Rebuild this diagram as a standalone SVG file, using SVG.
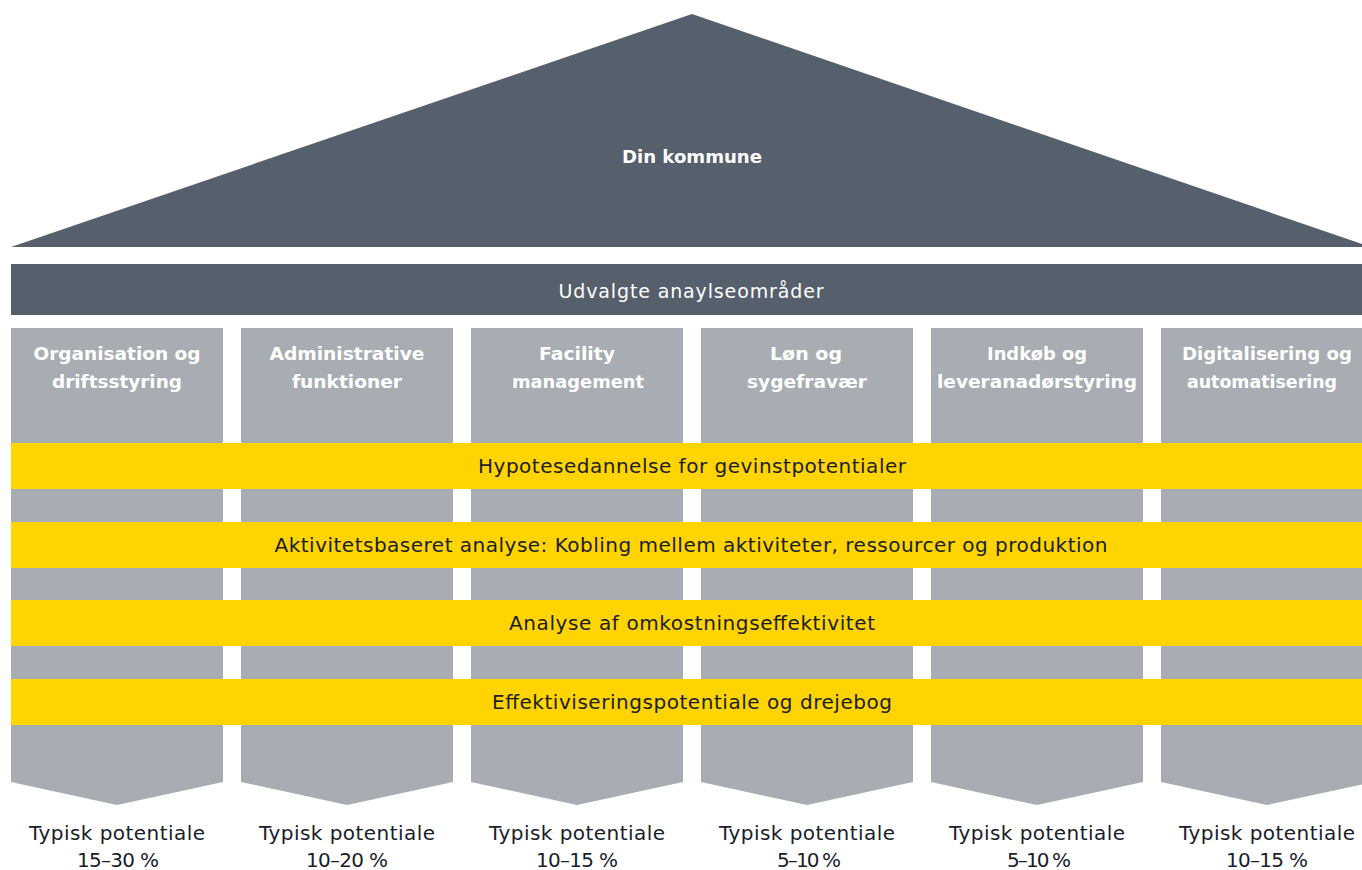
<svg xmlns="http://www.w3.org/2000/svg" width="1362" height="870" viewBox="0 0 1362 870">
<style>
.roof{fill:#55606c}
.col{fill:#a7adb3}
.band{fill:#ffd400}
.t{font-family:"DejaVu Sans","Liberation Sans",Arial,sans-serif;text-anchor:middle}
.w{fill:#ffffff}
.b{font-weight:bold}
.d{fill:#1a1d2a}
.s18{font-size:18.5px}
.s19{font-size:19px}
.s20{font-size:20px}
</style>
<rect width="1362" height="870" fill="#ffffff"/>
<g id="roof">
<polygon class="roof" points="11,247 692,14 1362,244 1362,247"/>
<text class="t w b s18" x="692" y="163" textLength="140" lengthAdjust="spacingAndGlyphs">Din kommune</text>
</g>
<g id="banner">
<rect class="roof" x="11" y="264" width="1351" height="51"/>
<text class="t w s19" x="691" y="298" textLength="265">Udvalgte anaylseområder</text>
</g>
<g id="col1">
<polygon class="col" points="11,328 223,328 223,782 117,805 11,782"/>
<text class="t w b s18" x="117" y="360" textLength="167" lengthAdjust="spacingAndGlyphs">Organisation og</text>
<text class="t w b s18" x="117" y="388" textLength="130" lengthAdjust="spacingAndGlyphs">driftsstyring</text>
</g>
<g id="col2">
<polygon class="col" points="241,328 453,328 453,782 347,805 241,782"/>
<text class="t w b s18" x="347" y="360" textLength="155" lengthAdjust="spacingAndGlyphs">Administrative</text>
<text class="t w b s18" x="347" y="388" textLength="110" lengthAdjust="spacingAndGlyphs">funktioner</text>
</g>
<g id="col3">
<polygon class="col" points="471,328 683,328 683,782 577,805 471,782"/>
<text class="t w b s18" x="577" y="360" textLength="76" lengthAdjust="spacingAndGlyphs">Facility</text>
<text class="t w b s18" x="578" y="388" textLength="132" lengthAdjust="spacingAndGlyphs">management</text>
</g>
<g id="col4">
<polygon class="col" points="701,328 913,328 913,782 807,805 701,782"/>
<text class="t w b s18" x="806" y="360" textLength="72" lengthAdjust="spacingAndGlyphs">Løn og</text>
<text class="t w b s18" x="807" y="388" textLength="120" lengthAdjust="spacingAndGlyphs">sygefravær</text>
</g>
<g id="col5">
<polygon class="col" points="931,328 1143,328 1143,782 1037,805 931,782"/>
<text class="t w b s18" x="1037" y="360" textLength="100" lengthAdjust="spacingAndGlyphs">Indkøb og</text>
<text class="t w b s18" x="1037" y="388" textLength="200" lengthAdjust="spacingAndGlyphs">leveranadørstyring</text>
</g>
<g id="col6">
<polygon class="col" points="1161,328 1373,328 1373,782 1267,805 1161,782"/>
<text class="t w b s18" x="1267" y="360" textLength="170" lengthAdjust="spacingAndGlyphs">Digitalisering og</text>
<text class="t w b s18" x="1262" y="388" textLength="150" lengthAdjust="spacingAndGlyphs">automatisering</text>
</g>
<g id="band1">
<rect class="band" x="11" y="443" width="1351" height="46"/>
<text class="t d s20" x="692" y="473" textLength="428">Hypotesedannelse for gevinstpotentialer</text>
</g>
<g id="band2">
<rect class="band" x="11" y="522" width="1351" height="46"/>
<text class="t d s20" x="691" y="552" textLength="833">Aktivitetsbaseret analyse: Kobling mellem aktiviteter, ressourcer og produktion</text>
</g>
<g id="band3">
<rect class="band" x="11" y="600" width="1351" height="46"/>
<text class="t d s20" x="692" y="630" textLength="366">Analyse af omkostningseffektivitet</text>
</g>
<g id="band4">
<rect class="band" x="11" y="679" width="1351" height="46"/>
<text class="t d s20" x="692" y="709" textLength="400">Effektiviseringspotentiale og drejebog</text>
</g>
<g id="labels">
<text class="t d s20" x="117" y="840" textLength="176">Typisk potentiale</text>
<text class="t d s20" x="118" y="867" textLength="82">15–30 %</text>
<text class="t d s20" x="347" y="840" textLength="176">Typisk potentiale</text>
<text class="t d s20" x="347" y="867" textLength="82">10–20 %</text>
<text class="t d s20" x="577" y="840" textLength="176">Typisk potentiale</text>
<text class="t d s20" x="577" y="867" textLength="82">10–15 %</text>
<text class="t d s20" x="807" y="840" textLength="176">Typisk potentiale</text>
<text class="t d s20" x="809" y="867" textLength="64">5–10 %</text>
<text class="t d s20" x="1037" y="840" textLength="176">Typisk potentiale</text>
<text class="t d s20" x="1039" y="867" textLength="64">5–10 %</text>
<text class="t d s20" x="1267" y="840" textLength="176">Typisk potentiale</text>
<text class="t d s20" x="1267" y="867" textLength="82">10–15 %</text>
</g>
<g id="connectors"></g>
</svg>
